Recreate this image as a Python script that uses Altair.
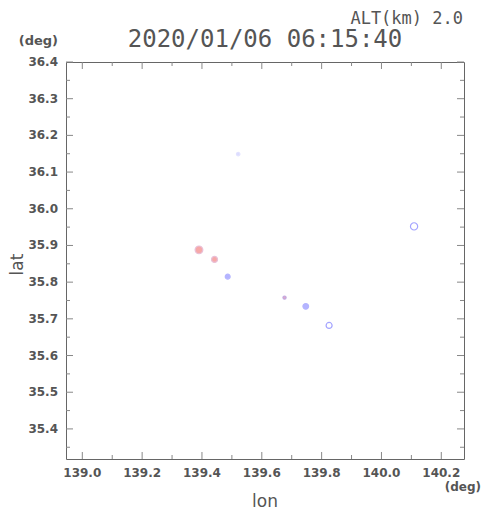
import altair as alt
import pandas as pd

# ---- data ----
lon = [139.521, 139.390, 139.442, 139.486, 139.676, 139.747, 139.825, 140.109]
lat = [36.149, 35.888, 35.862, 35.815, 35.758, 35.734, 35.682, 35.952]
kind = ["faint", "red", "red", "blue", "dot", "blue", "ring", "ring"]
extent = [0.6, 3.0, 1.8, 1.2, 0.5, 1.6, 1.8, 2.6]

major_lon = [139.0, 139.2, 139.4, 139.6, 139.8, 140.0, 140.2]
minor_lon = [139.1, 139.3, 139.5, 139.7, 139.9, 140.1]
major_lat = [35.4, 35.5, 35.6, 35.7, 35.8, 35.9, 36.0, 36.1, 36.2, 36.3, 36.4]
minor_lat = [35.35, 35.45, 35.55, 35.65, 35.75, 35.85, 35.95, 36.05, 36.15, 36.25, 36.35]

title_text = "2020/01/06 06:15:40"
alt_text = "ALT(km) 2.0"
unit_text = "(deg)"
xlabel = "lon"
ylabel = "lat"

W, H = 398, 397
GRAY = "#555555"
TICK = "#888888"

xscale = alt.Scale(domain=[138.9455, 140.2759], nice=False, zero=False)
yscale = alt.Scale(domain=[35.318, 36.4], nice=False, zero=False)

df = pd.DataFrame({"lon": lon, "lat": lat, "kind": kind, "extent": extent})

kinds = ["faint", "red", "blue", "dot", "ring"]
fills = ["#dcdcff", "#f6a8a8", "#b4b4ff", "#e4a8c8", "#ffffff"]
strokes = ["#e2e2ff", "#e8c0d8", "#b4b4ff", "#c0a8e0", "#a4a4ff"]

points = alt.Chart(df).mark_circle(opacity=1, strokeWidth=1.2).encode(
    x=alt.X("lon:Q", scale=xscale, axis=None),
    y=alt.Y("lat:Q", scale=yscale, axis=None),
    fill=alt.Fill("kind:N", scale=alt.Scale(domain=kinds, range=fills), legend=None),
    stroke=alt.Stroke("kind:N", scale=alt.Scale(domain=kinds, range=strokes), legend=None),
    size=alt.Size("extent:Q", scale=alt.Scale(domain=[0, 3], range=[0, 60]), legend=None),
)


def tick_layer(vals, axis, length, side):
    d = pd.DataFrame({"v": vals})
    if axis == "x":
        enc = dict(x=alt.X("v:Q", scale=xscale, axis=None))
        if side == "bottom":
            enc.update(y=alt.value(H), y2=alt.value(H - length))
        else:
            enc.update(y=alt.value(0), y2=alt.value(length))
    else:
        enc = dict(y=alt.Y("v:Q", scale=yscale, axis=None))
        if side == "left":
            enc.update(x=alt.value(0), x2=alt.value(length))
        else:
            enc.update(x=alt.value(W), x2=alt.value(W - length))
    return alt.Chart(d).mark_rule(color=TICK, strokeWidth=1).encode(**enc)


ticks = []
for side in ["bottom", "top"]:
    ticks.append(tick_layer(major_lon, "x", 7, side))
    ticks.append(tick_layer(minor_lon, "x", 4, side))
for side in ["left", "right"]:
    ticks.append(tick_layer(major_lat, "y", 7, side))
    ticks.append(tick_layer(minor_lat, "y", 4, side))

# tick labels, placed through the same scales
xlabels = alt.Chart(pd.DataFrame({"v": major_lon})).mark_text(
    font="DejaVu Sans", fontWeight="bold", fontSize=12, color=GRAY,
    align="center", baseline="alphabetic"
).encode(x=alt.X("v:Q", scale=xscale, axis=None), y=alt.value(H + 18),
         text=alt.Text("v:Q", format=".1f"))

ylabels = alt.Chart(pd.DataFrame({"v": major_lat})).mark_text(
    font="DejaVu Sans", fontWeight="bold", fontSize=12, color=GRAY,
    align="right", baseline="middle"
).encode(y=alt.Y("v:Q", scale=yscale, axis=None), x=alt.value(-8),
         text=alt.Text("v:Q", format=".1f"))


def text_layer(t, x, y, size, font, weight="normal", align="center", angle=0):
    d = pd.DataFrame({"t": [t]})
    return alt.Chart(d).mark_text(
        font=font, fontSize=size, fontWeight=weight, color=GRAY, align=align,
        baseline="alphabetic", angle=angle
    ).encode(x=alt.value(x), y=alt.value(y), text="t:N")


texts = [
    text_layer(title_text, W / 2, -15, 24, "DejaVu Sans Mono"),
    text_layer(alt_text, 397, -38, 17, "DejaVu Sans Mono", align="right"),
    text_layer(unit_text, -8, -17, 13, "DejaVu Sans", weight="bold", align="right"),
    text_layer(unit_text, W + 17, 429, 12, "DejaVu Sans", weight="bold", align="right"),
    text_layer(xlabel, W / 2, 445, 17, "DejaVu Sans"),
    text_layer(ylabel, -43, H / 2 + 4, 17, "DejaVu Sans", angle=270),
]

chart = alt.layer(points, *ticks, xlabels, ylabels, *texts).properties(
    width=W, height=H,
    padding={"left": 58, "top": 54, "right": 18, "bottom": 52},
    autosize=alt.AutoSizeParams(type="none"),
    background="white",
).configure_view(stroke="#666666", strokeWidth=1)

chart.save("out.html", embed_options={"renderer": "svg", "actions": False})
